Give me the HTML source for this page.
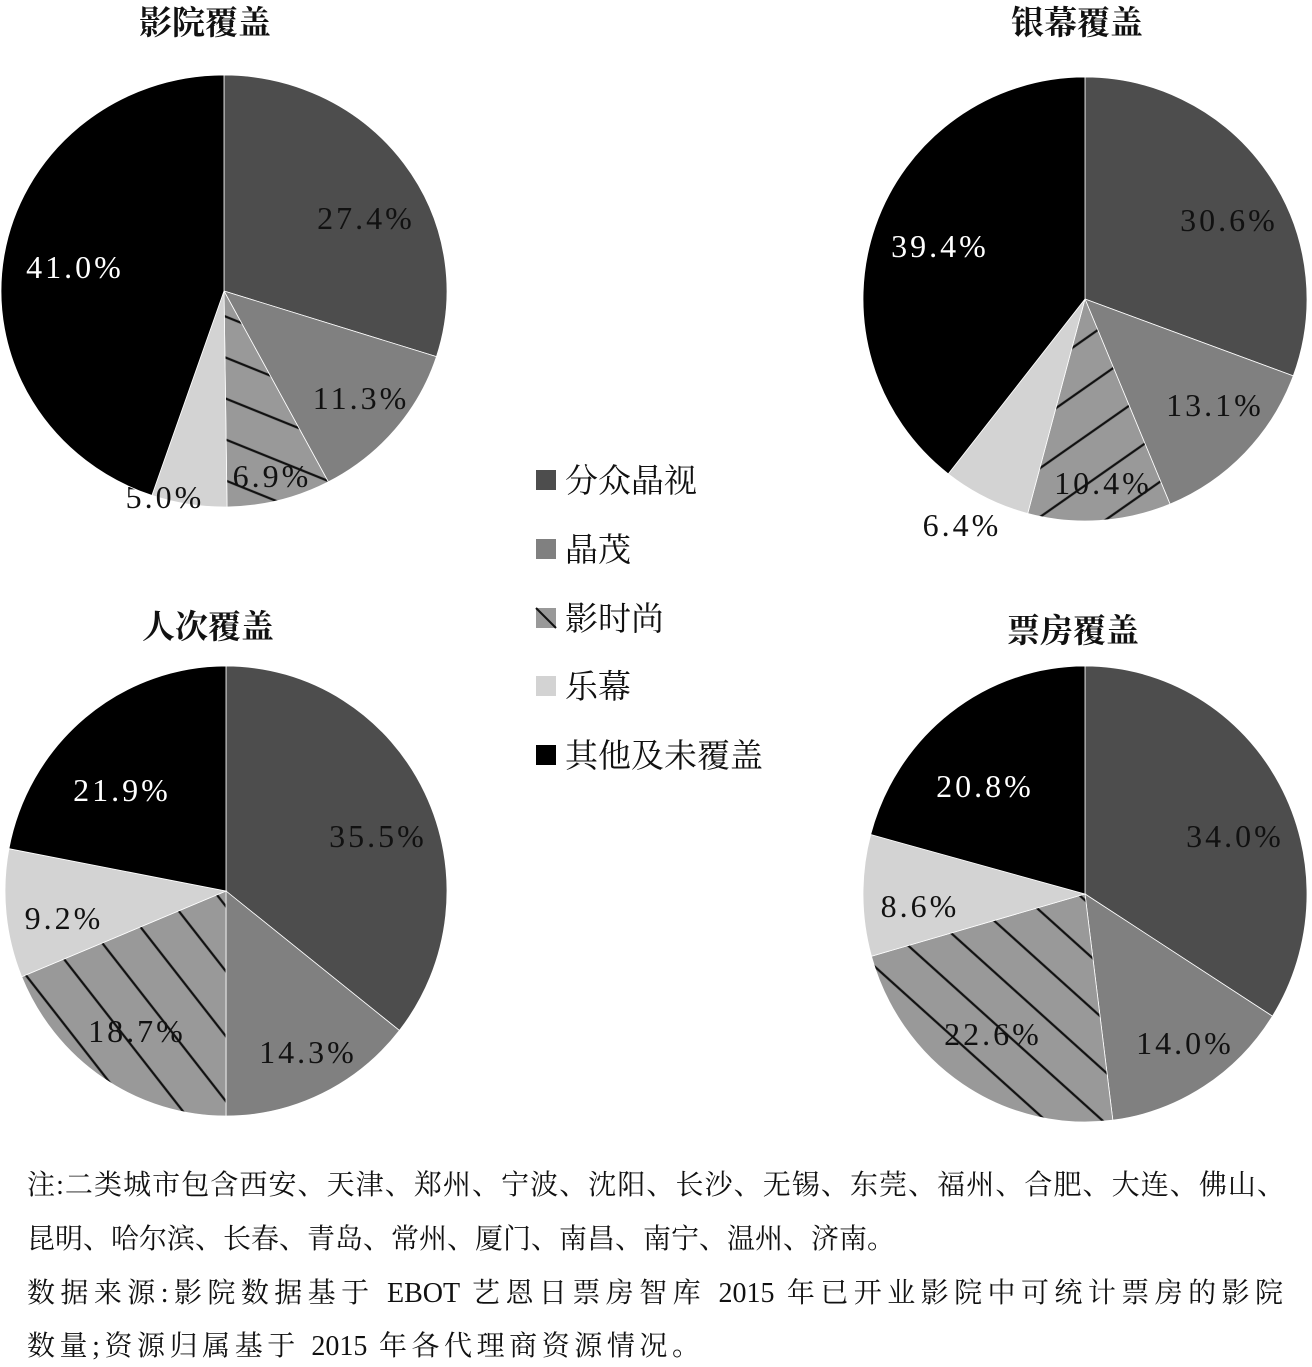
<!DOCTYPE html>
<html><head><meta charset="utf-8">
<style>
html,body{margin:0;padding:0;background:#fff;}
body{width:1312px;height:1367px;position:relative;overflow:hidden;}
svg{position:absolute;left:0;top:0;}
.note{position:absolute;left:27px;font-family:"Liberation Serif","Noto Serif CJK SC",serif;font-size:28px;color:#111;white-space:nowrap;text-align:justify;text-align-last:justify;}
</style></head>
<body>
<svg id="s" width="1312" height="1367" xmlns="http://www.w3.org/2000/svg">
<defs>
<pattern id="h1" patternUnits="userSpaceOnUse" width="40" height="38" patternTransform="rotate(22)"><rect width="40" height="38" fill="#999"/><line x1="0" y1="19" x2="40" y2="19" stroke="#111" stroke-width="2.2"/></pattern>
<pattern id="h2" patternUnits="userSpaceOnUse" width="40" height="40" patternTransform="rotate(-35)"><rect width="40" height="40" fill="#999"/><line x1="0" y1="20" x2="40" y2="20" stroke="#111" stroke-width="2.2"/></pattern>
<pattern id="h3" patternUnits="userSpaceOnUse" width="40" height="40" patternTransform="rotate(52)"><rect width="40" height="40" fill="#999"/><line x1="0" y1="20" x2="40" y2="20" stroke="#111" stroke-width="2.2"/></pattern>
<pattern id="h4" patternUnits="userSpaceOnUse" width="40" height="38" patternTransform="rotate(42)"><rect width="40" height="38" fill="#999"/><line x1="0" y1="19" x2="40" y2="19" stroke="#111" stroke-width="2.2"/></pattern>
</defs>
<g id="g"></g>
<g font-family="'Liberation Serif','Noto Serif CJK SC',serif" font-weight="bold" font-size="33" text-anchor="middle" fill="#111">
<text x="205" y="34">影院覆盖</text>
<text x="1077" y="34">银幕覆盖</text>
<text x="208" y="638">人次覆盖</text>
<text x="1073" y="642">票房覆盖</text>
</g>
<g font-family="'Liberation Serif','Noto Serif CJK SC',serif" font-size="33" fill="#111">
<rect x="536" y="470" width="20" height="20" fill="#4d4d4d"/><text x="565" y="492">分众晶视</text>
<rect x="536" y="539" width="20" height="20" fill="#808080"/><text x="565" y="561">晶茂</text>
<rect x="536" y="608" width="20" height="20" fill="#999"/><line x1="536" y1="608" x2="556" y2="628" stroke="#111" stroke-width="2"/><text x="565" y="630">影时尚</text>
<rect x="536" y="676" width="20" height="20" fill="#d3d3d3"/><text x="565" y="698">乐幕</text>
<rect x="536" y="745" width="20" height="20" fill="#000"/><text x="565" y="767">其他及未覆盖</text>
</g>
</svg>
<div class="note" style="top:1163px;width:1258px">注:二类城市包含西安、天津、郑州、宁波、沈阳、长沙、无锡、东莞、福州、合肥、大连、佛山、</div>
<div class="note" style="top:1217px;width:861px">昆明、哈尔滨、长春、青岛、常州、厦门、南昌、南宁、温州、济南。</div>
<div class="note" style="top:1271px;width:1256px">数据来源:影院数据基于 EBOT 艺恩日票房智库 2015 年已开业影院中可统计票房的影院</div>
<div class="note" style="top:1324px;width:673px">数量;资源归属基于 2015 年各代理商资源情况。</div>
<script>
var NS="http://www.w3.org/2000/svg",g=document.getElementById("g");
function el(t,a){var e=document.createElementNS(NS,t);for(var k in a)e.setAttribute(k,a[k]);g.appendChild(e);return e;}
var pies=[
{cx:224,cy:291,rx:223,ry:216,v:[27.4,11.3,6.9,5.0,41.0],h:"h1",
 L:[[366,218,"27.4%"],[361,398,"11.3%"],[272,476,"6.9%"],[165,497,"5.0%",1],[75,267,"41.0%"]]},
{cx:1085,cy:299,rx:222,ry:222,v:[30.6,13.1,10.4,6.4,39.4],h:"h2",
 L:[[1229,220,"30.6%"],[1215,405,"13.1%"],[1103,483,"10.4%"],[962,525,"6.4%"],[940,246,"39.4%"]]},
{cx:226,cy:891,rx:221,ry:225,v:[35.5,14.3,18.7,9.2,21.9],h:"h3",
 L:[[378,836,"35.5%"],[308,1052,"14.3%"],[137,1031,"18.7%"],[64,918,"9.2%"],[122,790,"21.9%"]]},
{cx:1085,cy:894,rx:222,ry:228,v:[34.0,14.0,22.6,8.6,20.8],h:"h4",
 L:[[1235,836,"34.0%"],[1185,1043,"14.0%"],[993,1034,"22.6%"],[920,906,"8.6%"],[985,786,"20.8%"]]}];
pies.forEach(function(p){
 var tot=p.v.reduce(function(a,b){return a+b},0),a=0;
 var fills=["#4d4d4d","#808080","url(#"+p.h+")","#d3d3d3","#000"];
 var paths=[];
 p.v.forEach(function(v,i){
  var a0=a,a1=a+v/tot*2*Math.PI;a=a1;
  var x0=p.cx+p.rx*Math.sin(a0),y0=p.cy-p.ry*Math.cos(a0),x1=p.cx+p.rx*Math.sin(a1),y1=p.cy-p.ry*Math.cos(a1);
  var lg=(a1-a0)>Math.PI?1:0;
  paths.push({d:"M"+p.cx+","+p.cy+"L"+x0+","+y0+"A"+p.rx+","+p.ry+" 0 "+lg+" 1 "+x1+","+y1+"Z",f:fills[i]});
 });
 function lab(l){var t=el("text",{x:l[0],y:l[1]+11,"text-anchor":"middle","font-family":"'Liberation Serif',serif","font-size":"32","letter-spacing":"3",fill:(l===p.L[4])?"#fff":"#111"});t.textContent=l[2];}
 for(var i=0;i<4;i++)el("path",{d:paths[i].d,fill:paths[i].f,stroke:"#fff","stroke-width":"0.8"});
 p.L.forEach(function(l){if(l[3])lab(l);});
 el("path",{d:paths[4].d,fill:"#000",stroke:"#fff","stroke-width":"0.8"});
 p.L.forEach(function(l){if(!l[3])lab(l);});
});
</script>
</body></html>
